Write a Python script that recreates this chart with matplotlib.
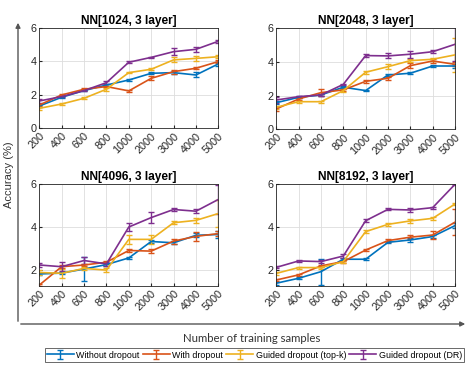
import matplotlib
matplotlib.use('Agg')
from matplotlib import pyplot as plt
import numpy as np

plt.rcParams['font.family'] = ['Liberation Sans', 'DejaVu Sans']

samples = ['200', '400', '600', '800', '1000', '2000', '3000', '4000', '5000']
methods = ['Without dropout', 'With dropout', 'Guided dropout (top-k)', 'Guided dropout (DR)']
colors = ['#0072BD', '#D95319', '#EDB120', '#7E2F8E']
titles = ['NN[1024, 3 layer]', 'NN[2048, 3 layer]', 'NN[4096, 3 layer]', 'NN[8192, 3 layer]']

# mean accuracy, one list per method, per network
acc_1024 = [
	[1.33, 1.85, 2.25, 2.58, 2.88, 3.28, 3.32, 3.18, 3.84],
	[1.39, 1.99, 2.33, 2.49, 2.23, 2.98, 3.38, 3.58, 3.98],
	[1.19, 1.45, 1.79, 2.33, 3.32, 3.52, 4.08, 4.17, 4.27],
	[1.63, 1.89, 2.25, 2.72, 3.94, 4.23, 4.57, 4.71, 5.19],
]
err_1024 = [
	[0.08, 0.06, 0.05, 0.05, 0.05, 0.05, 0.10, 0.15, 0.10],
	[0.08, 0.05, 0.06, 0.05, 0.07, 0.12, 0.12, 0.05, 0.10],
	[0.10, 0.04, 0.05, 0.10, 0.05, 0.05, 0.15, 0.15, 0.10],
	[0.10, 0.05, 0.05, 0.10, 0.05, 0.05, 0.20, 0.15, 0.10],
]
acc_2048 = [
	[1.58, 1.90, 2.04, 2.50, 2.30, 3.23, 3.33, 3.76, 3.76],
	[1.21, 1.80, 2.18, 2.34, 2.85, 3.03, 3.78, 4.06, 3.86],
	[1.31, 1.64, 1.64, 2.30, 3.39, 3.72, 4.08, 4.16, 4.42],
	[1.74, 1.94, 2.04, 2.67, 4.38, 4.36, 4.46, 4.61, 5.05],
]
err_2048 = [
	[0.10, 0.05, 0.05, 0.05, 0.05, 0.07, 0.05, 0.07, 0.10],
	[0.10, 0.07, 0.20, 0.08, 0.08, 0.10, 0.15, 0.10, 0.12],
	[0.10, 0.05, 0.05, 0.07, 0.10, 0.15, 0.10, 0.10, 1.00],
	[0.15, 0.05, 0.05, 0.05, 0.10, 0.15, 0.20, 0.08, 1.00],
]
acc_4096 = [
	[1.80, 1.84, 2.03, 2.24, 2.55, 3.32, 3.26, 3.61, 3.65],
	[1.28, 2.14, 2.22, 2.35, 2.90, 2.87, 3.34, 3.56, 3.69],
	[1.87, 1.83, 2.06, 1.98, 3.42, 3.42, 4.20, 4.31, 4.63],
	[2.22, 2.14, 2.43, 2.27, 4.00, 4.44, 4.82, 4.74, 5.29],
]
err_4096 = [
	[0.05, 0.05, 0.55, 0.05, 0.05, 0.05, 0.08, 0.10, 0.15],
	[0.05, 0.08, 0.05, 0.08, 0.08, 0.10, 0.12, 0.20, 0.10],
	[0.10, 0.20, 0.08, 0.10, 0.20, 0.20, 0.07, 0.10, 0.65],
	[0.10, 0.20, 0.15, 0.08, 0.20, 0.25, 0.07, 0.10, 0.70],
]
acc_8192 = [
	[1.38, 1.61, 1.92, 2.50, 2.50, 3.29, 3.40, 3.56, 4.07],
	[1.53, 1.77, 2.19, 2.39, 2.93, 3.37, 3.53, 3.63, 4.23],
	[1.84, 2.11, 2.11, 2.39, 3.79, 4.13, 4.29, 4.41, 5.08],
	[2.12, 2.42, 2.39, 2.65, 4.30, 4.83, 4.80, 4.91, 6.00],
]
err_8192 = [
	[0.07, 0.05, 0.60, 0.05, 0.05, 0.05, 0.10, 0.08, 0.10],
	[0.05, 0.05, 0.05, 0.05, 0.05, 0.07, 0.08, 0.20, 0.60],
	[0.08, 0.05, 0.05, 0.05, 0.08, 0.08, 0.10, 0.07, 0.05],
	[0.05, 0.03, 0.08, 0.08, 0.07, 0.05, 0.10, 0.05, 0.05],
]

panels = [(acc_1024, err_1024), (acc_2048, err_2048), (acc_4096, err_4096), (acc_8192, err_8192)]
ylims = [(0, 6), (0, 6), (1.25, 6), (1.25, 6)]
yticks = [[0, 2, 4, 6], [0, 2, 4, 6], [2, 4, 6], [2, 4, 6]]

W, H = 475, 375
# axes boxes in pixels: left, top, right, bottom
boxes = [(39.3, 27.7, 218.3, 128.3), (276.3, 28.3, 455, 129.3),
	(39.3, 184.3, 218.3, 285.7), (276.3, 184.3, 455, 286)]

fig = plt.figure(figsize=(4.75, 3.75), dpi=100)
x = np.arange(len(samples))
handles = []
for i, (acc, err) in enumerate(panels):
	l, t, r, b = boxes[i]
	ax = fig.add_axes([l / W, 1 - b / H, (r - l) / W, (b - t) / H])
	for k in range(4):
		h = ax.errorbar(x, acc[k], yerr=err[k], color=colors[k], lw=1.2,
			elinewidth=1.0, capsize=2, capthick=1.0, label=methods[k])
		if i == 0:
			handles.append(h)
	ax.set_xlim(0, len(samples) - 1)
	ax.set_ylim(*ylims[i])
	ax.set_xticks(x)
	ax.set_xticklabels(samples, rotation=45, ha='right', rotation_mode='anchor')
	ax.set_yticks(yticks[i])
	ax.tick_params(direction='in', length=2, labelsize=7.8, colors='#262626', pad=2)
	ax.grid(True, color='#dddddd', lw=0.6)
	ax.set_axisbelow(True)
	for s in ax.spines.values():
		s.set_color('#262626')
		s.set_linewidth(0.6)
	ax.set_title(titles[i], fontsize=8.6, fontweight='bold', pad=3)

# outer arrow axes
fig.add_artist(matplotlib.patches.FancyArrowPatch((18 / W, 1 - 324 / H), (18 / W, 1 - 20 / H),
	transform=fig.transFigure, arrowstyle='-|>', mutation_scale=7, color='#555555', lw=1.0))
fig.add_artist(matplotlib.patches.FancyArrowPatch((18 / W, 1 - 324 / H), (468 / W, 1 - 324 / H),
	transform=fig.transFigure, arrowstyle='-|>', mutation_scale=7, color='#555555', lw=1.0))
fig.text(9 / W, 1 - 175 / H, 'Accuracy (%)', rotation=90, ha='center', va='center',
	fontsize=8, color='#333333')
fig.text(252 / W, 1 - 338 / H, 'Number of training samples', ha='center', va='center',
	fontsize=8.2, family=['Lato', 'DejaVu Sans'], color='#333333')

leg = fig.legend(handles, methods, loc='center', bbox_to_anchor=(254.5 / W, 1 - 355 / H),
	ncol=4, fontsize=6.4, frameon=True, fancybox=False, handlelength=3.0,
	columnspacing=0.35, handletextpad=0.3, borderpad=0.25, borderaxespad=0)
leg.get_frame().set_edgecolor('#262626')
leg.get_frame().set_linewidth(0.6)

plt.savefig('out.png', dpi=100)
